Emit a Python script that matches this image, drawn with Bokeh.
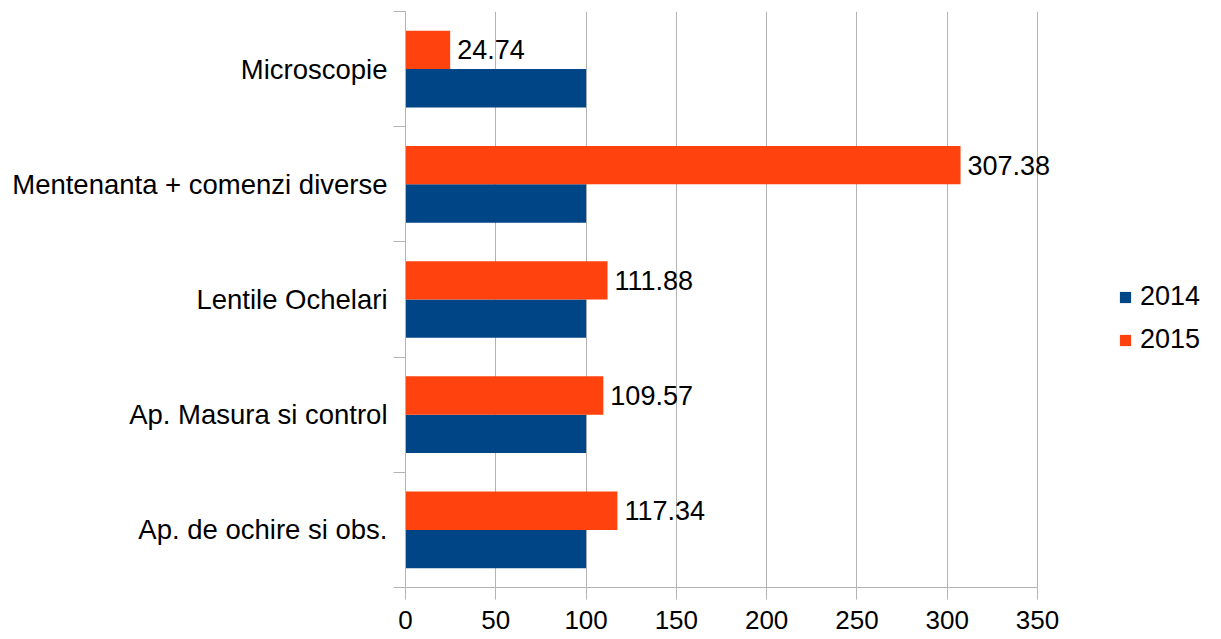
from bokeh.plotting import figure
from bokeh.models import (Range1d, FixedTicker, ColumnDataSource, Legend, LegendItem,
                          LabelSet)
from bokeh.transform import dodge
from bokeh.embed import file_html
from bokeh.resources import INLINE
from bokeh.core.properties import value

# ---- data ----
categories = ["Ap. de ochire si obs.", "Ap. Masura si control", "Lentile Ochelari",
              "Mentenanta + comenzi diverse", "Microscopie"]
values_2014 = [100, 100, 100, 100, 100]
values_2015 = [117.34, 109.57, 111.88, 307.38, 24.74]
series_names = ["2014", "2015"]
x_ticks = [0, 50, 100, 150, 200, 250, 300, 350]
x_max = 350

BLUE = "#004586"
ORANGE = "#ff420e"
GRID = "#b3b3b3"
FONT = "Liberation Sans"
FS = "27px"
FS_CAT = "27.5px"
FS_TICK = "26px"

pos = [i + 0.5 for i in range(len(categories))]
src = ColumnDataSource(dict(
    pos=pos,
    cat=categories,
    v2014=values_2014,
    v2015=values_2015,
    lbl=[f"{v:.2f}" for v in values_2015],
))

# layout (pixels)
W, H = 1215, 639
LEFT, TOP = 405, 11
AXIS_PX = 632          # pixel length of 0..350
FRAME_W = W - LEFT     # frame reaches the right edge (legend lives inside)
FRAME_H = 576
x_end = x_max * FRAME_W / AXIS_PX

p = figure(width=W, height=H, output_backend="svg", toolbar_location=None,
           x_range=Range1d(0, x_end), y_range=Range1d(0, len(categories)),
           min_border_left=LEFT, min_border_right=0, min_border_top=TOP,
           min_border_bottom=H - TOP - FRAME_H)
p.outline_line_color = None
p.background_fill_color = "white"

bh = 0.333
r14 = p.hbar(y=dodge("pos", -bh / 2), right="v2014", left=0, height=bh,
             source=src, fill_color=BLUE, line_color=None)
r15 = p.hbar(y=dodge("pos", bh / 2), right="v2015", left=0, height=bh,
             source=src, fill_color=ORANGE, line_color=None)

labels = LabelSet(x="v2015", y=dodge("pos", bh / 2), text="lbl", source=src,
                  x_offset=7, text_baseline="middle", text_align="left",
                  text_font=value(FONT), text_font_size=value(FS),
                  text_color="black")
p.add_layout(labels)

# x axis
p.xaxis.ticker = FixedTicker(ticks=x_ticks)
p.xaxis.bounds = (0, x_max)
p.xaxis.axis_line_color = GRID
p.xaxis.major_tick_line_color = GRID
p.xaxis.major_tick_in = 0
p.xaxis.major_tick_out = 12
p.xaxis.minor_tick_line_color = None
p.xaxis.major_label_standoff = 11
p.xaxis.major_label_text_font = FONT
p.xaxis.major_label_text_font_size = FS_TICK
p.xaxis.major_label_text_color = "black"

# y axis: labels at centers, tick marks at boundaries
p.yaxis.ticker = FixedTicker(ticks=pos, minor_ticks=list(range(len(categories) + 1)))
p.yaxis.major_label_overrides = {pv: c for pv, c in zip(pos, categories)}
p.yaxis.axis_line_color = GRID
p.yaxis.major_tick_line_color = None
p.yaxis.major_tick_in = 0
p.yaxis.major_tick_out = 0
p.yaxis.minor_tick_line_color = GRID
p.yaxis.minor_tick_in = 0
p.yaxis.minor_tick_out = 12
p.yaxis.major_label_standoff = 6
p.yaxis.major_label_text_font = FONT
p.yaxis.major_label_text_font_size = FS_CAT
p.yaxis.major_label_text_color = "black"

p.xgrid.ticker = FixedTicker(ticks=x_ticks)
p.xgrid.grid_line_color = GRID
p.ygrid.ticker = FixedTicker(ticks=[len(categories)])
p.ygrid.bounds = (0, x_max)
p.ygrid.grid_line_color = GRID
p.ygrid.grid_line_width = 2

legend = Legend(items=[LegendItem(label=series_names[0], renderers=[r14]),
                       LegendItem(label=series_names[1], renderers=[r15])],
                location=(713, 232), orientation="vertical",
                glyph_width=14, glyph_height=14, label_standoff=8,
                spacing=12, padding=0, margin=0,
                border_line_color=None, background_fill_alpha=0,
                label_text_font=FONT, label_text_font_size=FS,
                label_text_color="black")
p.add_layout(legend)

open("out.html", "w").write(file_html(p, INLINE))
